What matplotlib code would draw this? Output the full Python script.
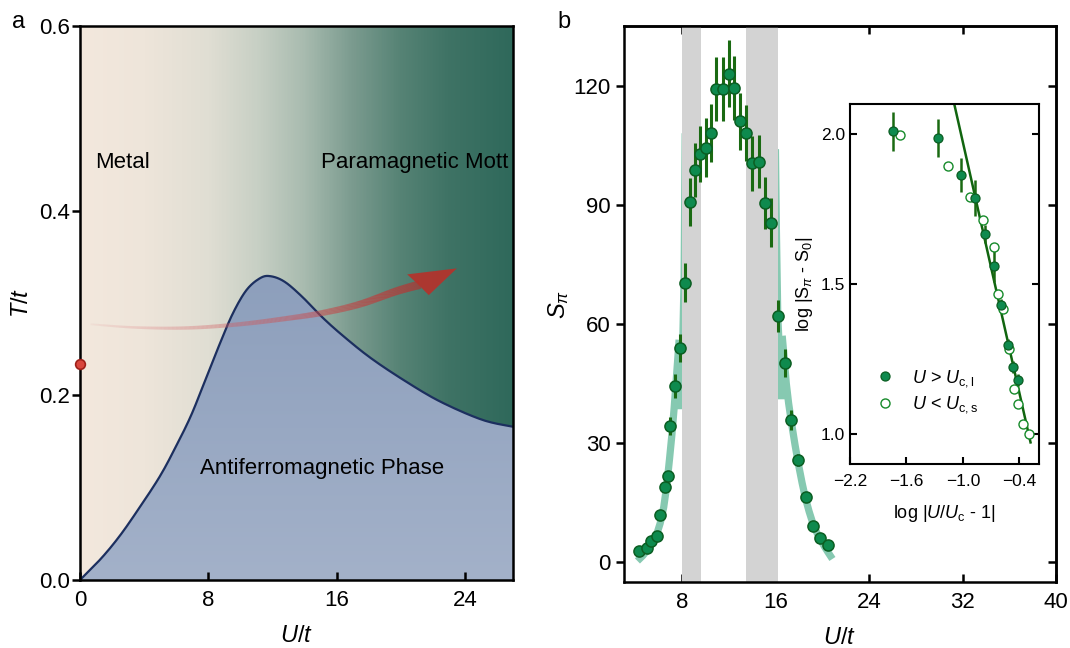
import numpy as np
import matplotlib
matplotlib.use('Agg')
import matplotlib.pyplot as plt
from matplotlib.colors import LinearSegmentedColormap
from matplotlib.collections import LineCollection
from matplotlib.patches import Polygon

plt.rcParams['font.family'] = ['Liberation Sans', 'DejaVu Sans']
plt.rcParams['mathtext.fontset'] = 'custom'
plt.rcParams['mathtext.rm'] = 'Liberation Sans'
plt.rcParams['mathtext.it'] = 'Liberation Sans:italic'
plt.rcParams['mathtext.bf'] = 'Liberation Sans:bold'

# ---------------- panel a data ----------------
# Neel temperature line T_N(U)
tn_u = [0, 1.3, 2.4, 3.46, 4.97, 6.05, 6.92, 7.78, 8.65, 9.51, 10.38, 11.24,
        11.89, 12.76, 13.84, 15.14, 16.43, 18.16, 20.32, 22.49, 25.08, 27.0]
tn_t = [0, 0.023, 0.046, 0.072, 0.112, 0.147, 0.178, 0.215, 0.253, 0.288, 0.314,
        0.327, 0.329, 0.323, 0.307, 0.284, 0.264, 0.240, 0.215, 0.193, 0.1735, 0.166]

# background gradient nodes (metal -> Mott)
bg_u = [0, 4, 8, 11, 14, 17, 20, 23, 27]
bg_col = ['#f3e8dd', '#eee5da', '#e0ded3', '#c8d0c5', '#a8bbaf', '#7b9b8f',
          '#568375', '#3f7365', '#2f695b']

# red arrow path
arrow_u = [0.65, 3.46, 6.7, 9.95, 13.2, 15.35, 17.5, 19.7, 21.2]
arrow_t = [0.277, 0.2735, 0.273, 0.277, 0.284, 0.290, 0.299, 0.3126, 0.320]
head_u = [23.5, 20.4, 21.0, 21.75]
head_t = [0.3375, 0.331, 0.3215, 0.3085]

dot_u, dot_t = 0, 0.234

# ---------------- panel b data ----------------
u_pts = [4.28, 5.01, 5.3, 5.8, 6.08, 6.54, 6.73, 6.93, 7.35, 7.77, 8.25, 8.65, 9.08,
         9.53, 10.02, 10.48, 10.9, 11.44, 11.96, 12.43, 12.95, 13.48, 13.96, 14.56,
         15.06, 15.63, 16.22, 16.76, 17.33, 17.94, 18.55, 19.17, 19.82, 20.5]
s_pts = [2.8, 3.6, 5.2, 6.7, 11.9, 18.8, 21.7, 34.3, 44.3, 54.0, 70.4, 90.7, 98.8,
         102.8, 104.4, 108.1, 119.2, 119.2, 123.0, 119.4, 111.0, 108.0, 100.4, 100.8,
         90.5, 85.5, 61.9, 50.2, 35.7, 25.7, 16.3, 9.2, 6.2, 4.4]
s_err = [1, 1, 1, 1, 1, 1, 1, 2.2, 3, 3.5, 4.9, 6, 6.8, 7, 7.4, 7.3, 8, 8, 8.5, 8,
         7.2, 7, 7, 6.7, 6.5, 6.2, 4, 3.5, 2.5, 1.5, 1, 1, 1, 1]

# fitted critical curves (shaded bands)
fit_left_u = [4.15, 4.6, 5.0, 5.4, 5.8, 6.1, 6.4, 6.65, 6.9, 7.1, 7.3, 7.45, 7.6, 7.72]
fit_left_s = [0.3, 1.6, 3.0, 4.6, 7.0, 9.8, 13.8, 19, 26, 32, 39, 45, 51, 56]
wedge_left_u = [7.45, 7.6, 7.72, 7.84, 7.93, 8.1, 8.1]
wedge_left_s = [38.5, 46, 55, 72, 108, 108, 38.5]
fit_right_u = [16.55, 16.7, 16.9, 17.1, 17.35, 17.65, 17.95, 18.25, 18.55, 18.85, 19.15,
               19.45, 19.8, 20.15, 20.45, 20.85]
fit_right_s = [57, 52, 45, 40, 35, 29.5, 24.5, 20, 16, 12.8, 10, 7.8, 5.8, 4.0, 2.6, 0.8]
wedge_right_u = [16.0, 16.28, 16.36, 16.48, 16.7, 16.95, 16.0]
wedge_right_s = [104, 104, 84, 62, 48, 41, 41]

gray_bands = [(8.0, 9.6), (13.45, 16.15)]

# ---------------- inset data ----------------
in_fill_x = [-1.743, -1.26, -1.023, -0.870, -0.76, -0.672, -0.59, -0.523, -0.466, -0.409]
in_fill_y = [2.010, 1.986, 1.864, 1.788, 1.668, 1.560, 1.431, 1.297, 1.224, 1.180]
in_fill_e = [0.065, 0.063, 0.057, 0.06, 0.03, 0.055, 0.02, 0.02, 0.02, 0.02]
in_open_x = [-1.668, -1.154, -0.923, -0.782, -0.668, -0.626, -0.576, -0.512, -0.455,
             -0.409, -0.363, -0.296]
in_open_y = [1.996, 1.893, 1.791, 1.715, 1.622, 1.466, 1.418, 1.284, 1.149, 1.101,
             1.035, 1.0]
fit_line_x = [-1.11, -0.28]
fit_line_y = [2.126, 0.972]

fs = 16
green_face = '#0e8a4e'
green_edge = '#0b5e22'
bar_green = '#1a6a12'


def smooth_path(xs, ys, n=12):
    # Catmull-Rom pass through the read-off points, only for a smooth drawn line
    p = np.column_stack([xs, ys]).astype(float)
    p = np.vstack([p[0], p, p[-1]])
    out = []
    for i in range(1, len(p) - 2):
        p0, p1, p2, p3 = p[i - 1], p[i], p[i + 1], p[i + 2]
        for t in np.linspace(0, 1, n, endpoint=False):
            out.append(0.5 * ((2 * p1) + (-p0 + p2) * t
                              + (2 * p0 - 5 * p1 + 4 * p2 - p3) * t ** 2
                              + (-p0 + 3 * p1 - 3 * p2 + p3) * t ** 3))
    out.append(p[-2])
    out = np.array(out)
    return out[:, 0], out[:, 1]


fig = plt.figure(figsize=(10.7, 6.48), dpi=100)

# ================= panel a =================
ax = fig.add_axes([80 / 1070, 1 - 580 / 648, 433 / 1070, 554 / 648])
ax.set_xlim(0, 27)
ax.set_ylim(0, 0.6)

bg_cmap = LinearSegmentedColormap.from_list(
    'bg', list(zip(np.array(bg_u) / bg_u[-1], bg_col)))
ax.imshow(np.linspace(0, 1, 400)[None, :], cmap=bg_cmap, aspect='auto',
          extent=[0, 27, 0, 0.6], origin='lower', zorder=0)

su, st = smooth_path(tn_u, tn_t)
afm_cmap = LinearSegmentedColormap.from_list('afm', ['#a3b1c9', '#8d9fbc'])
afm_img = ax.imshow(np.linspace(0, 1, 200)[:, None], cmap=afm_cmap, aspect='auto',
                    extent=[0, 27, 0, 0.33], origin='lower', zorder=1)
afm_poly = Polygon(np.column_stack([np.r_[su, 27, 0], np.r_[st, 0, 0]]),
                   closed=True, facecolor='none', edgecolor='none',
                   transform=ax.transData)
ax.add_patch(afm_poly)
afm_img.set_clip_path(afm_poly)
ax.plot(su, st, color='#1c2f5f', lw=1.6, zorder=3)

# gradient arrow shaft
au, at = smooth_path(arrow_u, arrow_t, n=40)
pts = np.column_stack([au, at]).reshape(-1, 1, 2)
segs = np.concatenate([pts[:-1], pts[1:]], axis=1)
frac = np.linspace(0, 1, len(segs))
cols = np.zeros((len(segs), 4))
cols[:, 0] = 0.88 - 0.17 * frac
cols[:, 1] = 0.45 - 0.26 * frac
cols[:, 2] = 0.48 - 0.30 * frac
cols[:, 3] = 0.05 + 0.85 * frac ** 0.8
lc = LineCollection(segs, colors=cols, linewidths=1.2 + 5.0 * frac,
                    capstyle='butt', zorder=4)
ax.add_collection(lc)
ax.fill(head_u, head_t, color='#b5322b', alpha=0.92, lw=0, zorder=4)

ax.plot(dot_u, dot_t, 'o', ms=7, mfc='#d9463d', mec='#9e2019', mew=1.2,
        clip_on=False, zorder=10)

ax.text(0.93, 0.452, 'Metal', fontsize=fs, va='center', ha='left', zorder=5)
ax.text(15.03, 0.452, 'Paramagnetic Mott', fontsize=fs, va='center', ha='left', zorder=5)
ax.text(7.46, 0.1205, 'Antiferromagnetic Phase', fontsize=fs, va='center',
        ha='left', zorder=5)

ax.set_xticks([0, 8, 16, 24])
ax.set_yticks([0.0, 0.2, 0.4, 0.6])
ax.set_yticklabels(['0.0', '0.2', '0.4', '0.6'])
ax.tick_params(axis='x', direction='in', length=6, width=1.8, labelsize=fs, pad=7)
ax.tick_params(axis='y', direction='out', length=6, width=1.8, labelsize=fs, pad=1.5)
for sp in ax.spines.values():
    sp.set_linewidth(1.8)
    sp.set_zorder(6)
ax.set_xlabel(r'$U$/$t$', fontsize=fs + 1, labelpad=10)
ax.set_ylabel(r'$T$/$t$', fontsize=fs + 1, labelpad=4)

# ================= panel b =================
bx = fig.add_axes([624 / 1070, 1 - 582 / 648, 432 / 1070, 556 / 648])
bx.set_xlim(3, 40)
bx.set_ylim(-5, 135)

for lo, hi in gray_bands:
    bx.axvspan(lo, hi, color='#d3d3d3', lw=0, zorder=2)

teal = '#86c9b1'
bx.plot(fit_left_u, fit_left_s, color=teal, lw=5.2, solid_capstyle='butt', zorder=1)
bx.plot(fit_right_u, fit_right_s, color=teal, lw=5.2, solid_capstyle='butt', zorder=1)
bx.fill(wedge_left_u, wedge_left_s, color=teal, lw=0, zorder=1)
bx.fill(wedge_right_u, wedge_right_s, color=teal, lw=0, zorder=1)

bx.errorbar(u_pts, s_pts, yerr=s_err, fmt='none', ecolor=bar_green, elinewidth=2.2,
            capsize=0, zorder=3)
bx.plot(u_pts, s_pts, 'o', ms=8, mfc=green_face, mec=green_edge, mew=1.1, zorder=4)

bx.set_xticks([8, 16, 24, 32, 40])
bx.set_yticks([0, 30, 60, 90, 120])
bx.tick_params(axis='x', direction='in', length=6, width=1.8, labelsize=fs, pad=7)
bx.tick_params(axis='y', direction='out', length=6, width=1.8, labelsize=fs)
for sp in bx.spines.values():
    sp.set_linewidth(1.8)
sec_y = bx.secondary_yaxis('right')
sec_y.set_yticks([0, 30, 60, 90, 120])
sec_y.tick_params(direction='in', length=6, width=1.8, labelright=False)
sec_y.spines['right'].set_linewidth(1.8)
sec_x = bx.secondary_xaxis('top')
sec_x.set_xticks([8, 16, 24, 32])
sec_x.tick_params(direction='in', length=6, width=1.8, labeltop=False)
sec_x.spines['top'].set_linewidth(1.8)
bx.set_xlabel(r'$U$/$t$', fontsize=fs + 1, labelpad=10)
bx.set_ylabel(r'$S_\pi$', fontsize=fs + 1, labelpad=2)

# ================= inset =================
ix = fig.add_axes([850 / 1070, 1 - 464 / 648, 189 / 1070, 360 / 648])
ix.set_xlim(-2.2, -0.19)
ix.set_ylim(0.9, 2.1)
ix.plot(fit_line_x, fit_line_y, color='#11650f', lw=1.8, zorder=2)
ix.errorbar(in_fill_x, in_fill_y, yerr=in_fill_e, fmt='none', ecolor=bar_green,
            elinewidth=1.8, capsize=0, zorder=3)
ix.plot(in_fill_x, in_fill_y, 'o', ms=6.5, mfc=green_face, mec=green_edge, mew=0.9,
        zorder=4, label=r'$U$ > $U_{\rm c,l}$')
ix.plot(in_open_x, in_open_y, 'o', ms=6.5, mfc='white', mec='#168a2a', mew=1.0,
        zorder=3, label=r'$U$ < $U_{\rm c,s}$')
ix.legend(loc='lower left', bbox_to_anchor=(0.07, 0.10), frameon=False, fontsize=13,
          handlelength=1.0, handletextpad=1.0, labelspacing=0.3, borderpad=0.2)
ix.set_xticks([-2.2, -1.6, -1.0, -0.4])
ix.set_xticklabels(['\u22122.2', '\u22121.6', '\u22121.0', '\u22120.4'])
ix.set_yticks([1.0, 1.5, 2.0])
ix.tick_params(axis='both', direction='in', length=5, width=1.5, labelsize=12.5)
ix.tick_params(axis='x', pad=7)
ix.tick_params(axis='y', right=True, direction='in')
for sp in ix.spines.values():
    sp.set_linewidth(1.5)
ix.set_xlabel(r'log |$U$/$U_{\rm c}$ - 1|', fontsize=13, labelpad=10)
ix.set_ylabel(r'log |S$_\pi$ - S$_0$|', fontsize=13, labelpad=4)

fig.text(12 / 1070, 1 - 22 / 648, 'a', fontsize=17, va='center', ha='left')
fig.text(557 / 1070, 1 - 22 / 648, 'b', fontsize=17, va='center', ha='left')

fig.savefig('out.png', dpi=100)
